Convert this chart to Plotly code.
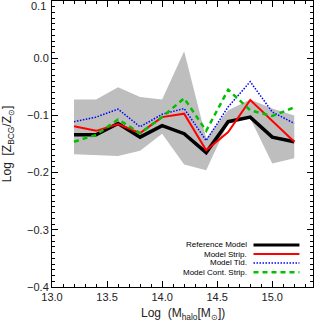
import plotly.graph_objects as go

mass = [13.2, 13.4, 13.6, 13.8, 14.0, 14.2, 14.4, 14.6, 14.8, 15.0, 15.2]
band_upper = [-0.072, -0.072, -0.051, -0.068, -0.072, 0.012, -0.140, -0.091, -0.072, -0.088, -0.100]
band_lower = [-0.168, -0.170, -0.171, -0.162, -0.132, -0.186, -0.196, -0.113, -0.105, -0.184, -0.175]
ref_model = [-0.134, -0.134, -0.114, -0.138, -0.118, -0.132, -0.165, -0.111, -0.103, -0.138, -0.146]
model_strip = [-0.119, -0.127, -0.115, -0.131, -0.103, -0.097, -0.161, -0.129, -0.073, -0.110, -0.146]
model_tid = [-0.111, -0.103, -0.089, -0.120, -0.098, -0.088, -0.144, -0.085, -0.041, -0.094, -0.114]
model_cont = [-0.146, -0.134, -0.107, -0.131, -0.103, -0.070, -0.127, -0.055, -0.091, -0.101, -0.086]

x_ticks = [13.0, 13.5, 14.0, 14.5, 15.0]
y_ticks = [-0.4, -0.3, -0.2, -0.1, 0.0]
legend_labels = ["Reference Model", "Model Strip.", "Model Tid.", "Model Cont. Strip."]

fig = go.Figure()
fig.add_trace(go.Scatter(x=mass, y=band_lower, mode="lines", line=dict(width=0),
                         showlegend=False, hoverinfo="skip"))
fig.add_trace(go.Scatter(x=mass, y=band_upper, mode="lines", line=dict(width=0),
                         fill="tonexty", fillcolor="#bebebe", showlegend=False, hoverinfo="skip"))

styles = [
    dict(color="black", width=3.5, dash="solid"),
    dict(color="#ff0000", width=2, dash="solid"),
    dict(color="#0000ff", width=1.5, dash="1.5px,1.5px"),
    dict(color="#00c000", width=2.5, dash="5px,4px"),
]
series = [ref_model, model_strip, model_tid, model_cont]
for s, st, name in zip(series, styles, legend_labels):
    fig.add_trace(go.Scatter(x=mass, y=s, mode="lines", line=st, name=name, showlegend=False))

# legend built from annotations + sample lines
leg_y = [0.147, 0.115, 0.084, 0.052]
for lab, st, yy in zip(legend_labels, styles, leg_y):
    fig.add_annotation(x=0.754, y=yy, xref="paper", yref="paper", text=lab,
                       showarrow=False, xanchor="right", yanchor="middle",
                       font=dict(size=8, color="black"))
    fig.add_shape(type="line", xref="paper", yref="paper", x0=0.772, x1=0.948, y0=yy, y1=yy,
                  line=dict(color=st["color"], width=min(st["width"], 3), dash=st["dash"]))

tick_font = dict(size=11, color="#222222")
axis_common = dict(showline=True, linecolor="black", linewidth=1, mirror="allticks",
                   ticks="inside", ticklen=6, tickcolor="black", showgrid=False, zeroline=False,
                   tickfont=tick_font, automargin=False)
fig.update_xaxes(range=[13.0, 15.37], tickvals=x_ticks, tickformat=".1f",
                 minor=dict(dtick=0.1, tick0=13.0, ticks="inside", ticklen=3, tickcolor="black"),
                 **axis_common)
fig.update_yaxes(range=[-0.4, 0.1], tickvals=y_ticks, tickformat=".1f",
                 minor=dict(dtick=0.01, tick0=0.0, ticks="inside", ticklen=3, tickcolor="black"),
                 **axis_common)

# axis titles and the top tick label (would be clipped by the edge)
fig.add_annotation(x=0.5, y=-0.094, xref="paper", yref="paper", showarrow=False,
                   text="Log  (M<sub>halo</sub>[M<sub>⊙</sub>])", yanchor="middle",
                   font=dict(size=12, color="#222222"))
fig.add_annotation(x=-0.168, y=0.5, xref="paper", yref="paper", showarrow=False, textangle=-90,
                   text="Log  [Z<sub>BCG</sub>/Z<sub>⊙</sub>]", xanchor="center", yanchor="middle",
                   font=dict(size=12, color="#222222"))
fig.add_annotation(x=-0.016, y=0.983, xref="paper", yref="paper", showarrow=False,
                   text="0.1", xanchor="right", yanchor="middle", font=tick_font)

fig.update_layout(width=315, height=323, margin=dict(l=52, r=2, t=1, b=36),
                  paper_bgcolor="white", plot_bgcolor="white",
                  font=dict(family="Liberation Sans, Arial, sans-serif"))
fig.write_html("out.html", config={"displayModeBar": False},
               post_script="document.body.style.margin='0';document.body.style.overflow='hidden';")
